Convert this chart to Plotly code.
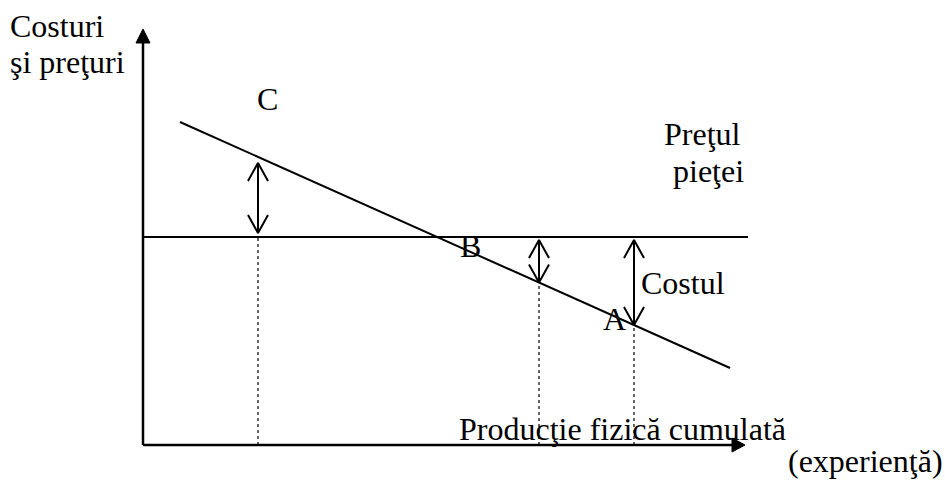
import numpy as np
import plotly.graph_objects as go

# ---- data (diagram units: origin at the axes' intersection) ----
cost_x = [37, 587]          # cost (experience) curve end points
cost_y = [323, 77]
price_x = [0, 605]          # market price line
price_y = [208, 208]
gap_x = [115, 396, 491]     # positions of the price/cost gap arrows
x_axis_end = 602
y_axis_end = 416

labels = {
    "Costuri": (-134, 419, "left"),
    "şi preţuri": (-134, 383, "left"),
    "C": (124, 346, "center"),
    "Preţul": (520, 311, "left"),
    "pieţei": (529, 274, "left"),
    "B": (316, 199, "left"),
    "Costul": (497, 162, "left"),
    "A": (459, 126, "left"),
    "Producţie fizică cumulată": (315, 16, "left"),
    "(experienţă)": (644, -16, "left"),
}

FONT = dict(family="Liberation Serif, Times New Roman, serif", size=32, color="black")

fig = go.Figure()

def line(xs, ys, width=2, dash="solid"):
    fig.add_trace(go.Scatter(x=xs, y=ys, mode="lines",
                             line=dict(color="black", width=width, dash=dash),
                             hoverinfo="skip", showlegend=False))

def poly(xs, ys):
    fig.add_trace(go.Scatter(x=xs, y=ys, mode="lines", fill="toself",
                             fillcolor="black", line=dict(color="black", width=1),
                             hoverinfo="skip", showlegend=False))

# axes
line([0, 0], [0, y_axis_end - 10], width=2.5)
line([0, x_axis_end - 10], [0, 0], width=2.5)
poly([-7, 0, 7, -7], [y_axis_end - 14, y_axis_end, y_axis_end - 14, y_axis_end - 14])
poly([x_axis_end - 13, x_axis_end, x_axis_end - 13, x_axis_end - 13], [-7, 0, 7, -7])

# price and cost lines
line(price_x, price_y, width=2)
line(cost_x, cost_y, width=2)

# gap arrows and dotted guides
hx, hy = 10, 18
for gx in gap_x:
    c = float(np.interp(gx, cost_x, cost_y))
    p = float(np.interp(gx, price_x, price_y))
    top = max(c, p)
    bot = min(c, p)
    if c > p:
        top_tip, bot_tip = top - 6, bot + 4
    else:
        top_tip, bot_tip = top - 3, bot
    line([gx, gx], [bot_tip, top_tip], width=2)
    line([gx - hx, gx, gx + hx], [top_tip - hy, top_tip, top_tip - hy], width=2)
    line([gx - hx, gx, gx + hx], [bot_tip + hy, bot_tip, bot_tip + hy], width=2)
    line([gx, gx], [0, bot], width=1.2, dash="dot")

for text, (lx, ly, anchor) in labels.items():
    fig.add_annotation(x=lx, y=ly, text=text, showarrow=False, xref="x", yref="y",
                       xanchor=anchor, yanchor="middle", font=FONT, borderpad=0)

fig.update_layout(
    width=945, height=483,
    margin=dict(l=0, r=0, t=0, b=0),
    paper_bgcolor="white", plot_bgcolor="white",
    xaxis=dict(range=[-143, 802], visible=False, fixedrange=True),
    yaxis=dict(range=[-38, 445], visible=False, fixedrange=True),
)

fig.write_html("out.html", config={"displayModeBar": False},
               post_script="document.body.style.margin='0';document.body.style.overflow='hidden';")
